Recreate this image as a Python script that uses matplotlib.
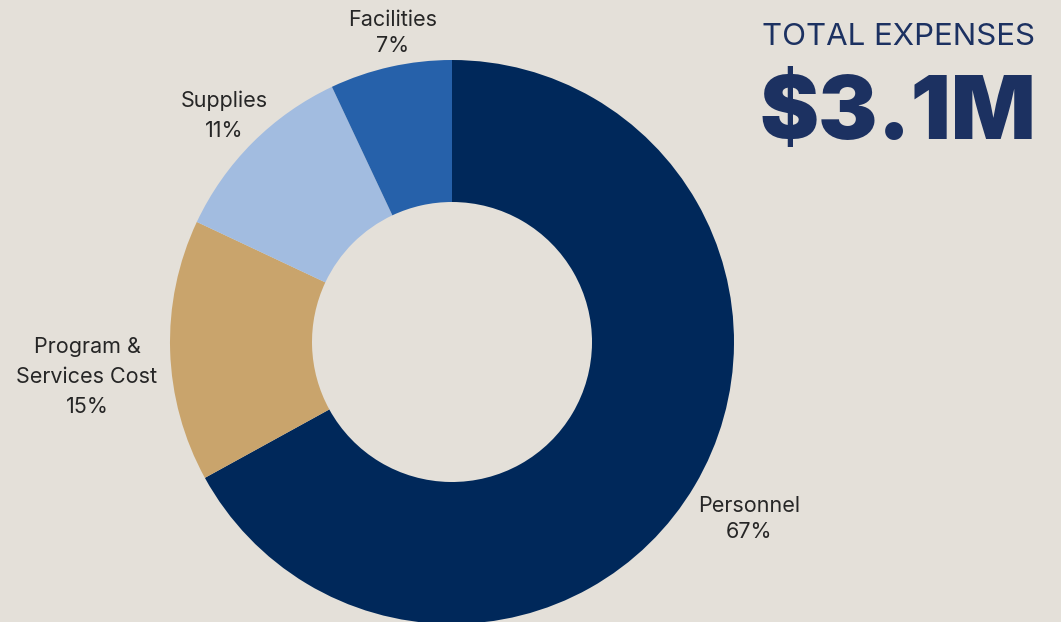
import matplotlib

matplotlib.use("Agg")
import matplotlib.pyplot as plt

# expense breakdown, clockwise from 12 o'clock
categories = ["Personnel", "Program &\nServices Cost", "Supplies", "Facilities"]
shares = [67, 15, 11, 7]
colors = ["#00285A", "#C9A46C", "#A2BCE0", "#2661AA"]
total_label = "TOTAL EXPENSES"
total_value = "$3.1M"

BG = "#E4E0D9"
W, H = 1061, 622

plt.rcParams["font.family"] = ["Inter", "DejaVu Sans"]

fig = plt.figure(figsize=(W / 100, H / 100), dpi=100, facecolor=BG)
ax = fig.add_axes([0, 0, 1, 1])
ax.set_facecolor(BG)

# pixel-ish coordinates, y up
cx, cy, r = 452, H - 342, 282
wedges, _ = ax.pie(shares, colors=colors, startangle=90, counterclock=False,
                   center=(cx, cy), radius=r,
                   wedgeprops=dict(width=r - 140, linewidth=0))
ax.set_xlim(0, W)
ax.set_ylim(0, H)
ax.set_aspect("equal")
ax.axis("off")

# label placement: (x, y of text centre top-down, line spacing)
label_pos = {
    "Personnel": (749, 519, 1.32),
    "Program &\nServices Cost": (87, 377, 1.62),
    "Supplies": (224, 116, 1.62),
    "Facilities": (393, 33, 1.43),
}
for name, pct in zip(categories, shares):
    x, y, ls = label_pos[name]
    ax.text(x, H - y, f"{name}\n{pct}%", ha="center", va="center",
            fontsize=15.5, color="#262626", linespacing=ls)

navy = "#1C3161"
ax.text(899, H - 37, total_label, ha="center", va="center",
        fontsize=22.5, color=navy, fontweight="normal")
ax.text(898, H - 116, total_value, ha="center", va="center",
        fontsize=64, color=navy, fontweight="black")

fig.savefig("out.png", dpi=100, facecolor=BG)
